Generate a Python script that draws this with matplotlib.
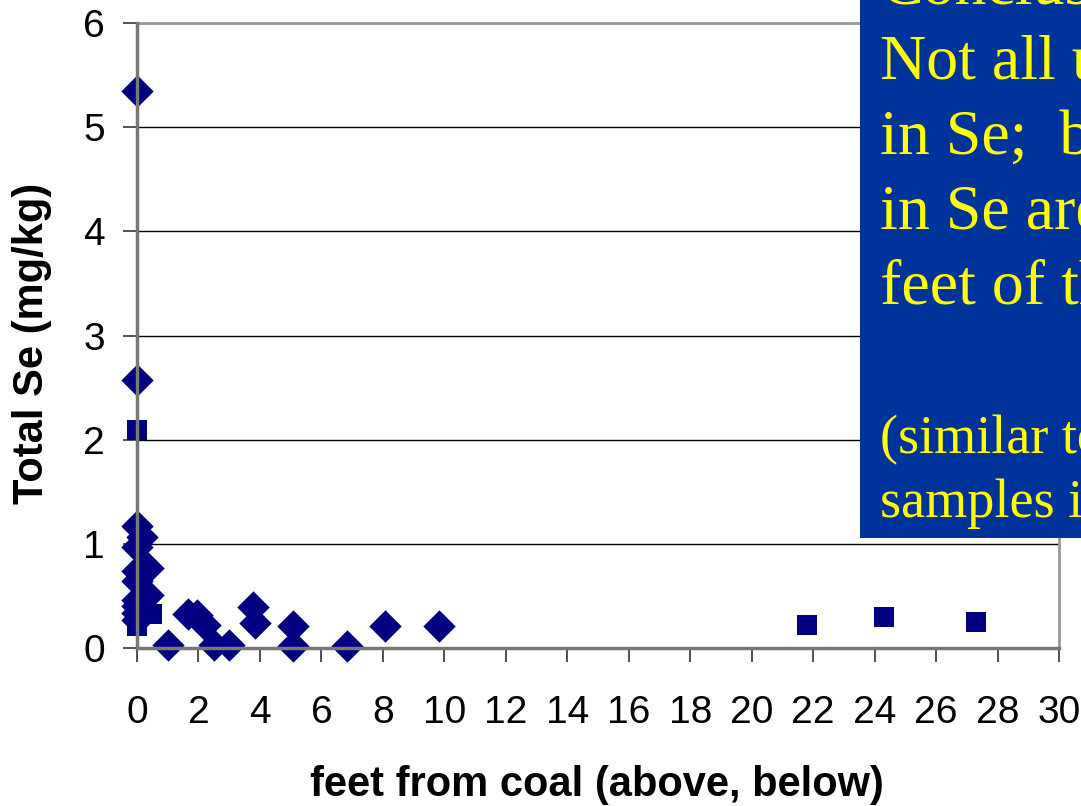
import matplotlib
matplotlib.use("Agg")
import matplotlib.pyplot as plt
from matplotlib.patches import Rectangle

# diamond samples (feet from coal, total Se)
dia_x = [0, 0, 0, 0.15, 0, 0.35, 0, 0, 0.35, 0, 0, 0, 0,
         1.0, 1.65, 1.95, 2.2, 2.5, 3.0, 3.78, 3.85, 5.08, 5.08, 6.83, 8.07, 9.83]
dia_y = [5.35, 2.57, 1.17, 1.07, 0.97, 0.77, 0.74, 0.64, 0.51, 0.46, 0.40, 0.34, 0.27,
         0.03, 0.33, 0.32, 0.22, 0.03, 0.03, 0.39, 0.24, 0.21, 0.02, 0.02, 0.21, 0.21]

# square samples
sq_x = [0, 0.48, 0, 21.8, 24.3, 27.3]
sq_y = [2.09, 0.33, 0.21, 0.22, 0.30, 0.25]

xticks = list(range(0, 31, 2))
yticks = list(range(0, 7))

box_lines_big = ["Conclusion:", "Not all units are high", "in Se;  but those high",
                 "in Se are within a few", "feet of the coal."]
box_lines_small = ["(similar to other", "samples in the area)"]

navy = "#000080"
W, H = 1081, 806

fig = plt.figure(figsize=(10.81, 8.06), dpi=100)
ax = fig.add_axes([137 / W, 158 / H, 922 / W, 625 / H])

ax.scatter(dia_x, dia_y, marker="D", s=16.5 ** 2, color=navy, linewidths=0, clip_on=False, zorder=3)
ax.scatter(sq_x, sq_y, marker="s", s=15 ** 2, color=navy, linewidths=0, clip_on=False, zorder=3)

ax.set_xlim(0, 30)
ax.set_ylim(0, 6)
ax.set_xticks(xticks)
ax.set_yticks(yticks)
ax.yaxis.grid(True, color="black", linewidth=1.0)
ax.set_axisbelow(True)

for side in ["left", "bottom"]:
    ax.spines[side].set_color("#777777")
    ax.spines[side].set_linewidth(2.5)
    ax.spines[side].set_zorder(4)
for side in ["top", "right"]:
    ax.spines[side].set_color("#999999")
    ax.spines[side].set_linewidth(2.0)

ax.tick_params(direction="out", length=10, width=1.2, color="#333333", labelsize=28)
ax.tick_params(axis="y", pad=13)
ax.tick_params(axis="x", pad=24)
for lab in ax.get_xticklabels() + ax.get_yticklabels():
    lab.set_fontfamily("Liberation Sans")

fig.text(597 / W, 1 - 796 / H, "feet from coal (above, below)", fontsize=30, fontweight="bold",
         family="Liberation Sans", ha="center", va="baseline")
fig.text(32 / W, 1 - 343 / H, "Total Se (mg/kg)", fontsize=30, fontweight="bold",
         family="Liberation Sans", ha="center", va="center", rotation=90)

# blue conclusion box in the upper right
fig.patches.append(Rectangle((860 / W, 1 - 538 / H), 0.3, 0.7, transform=fig.transFigure,
                             facecolor="#003399", edgecolor="none", zorder=10))
for i, line in enumerate(box_lines_big):
    fig.text(880 / W, 1 - (4 + i * 75) / H, line, color="#ffff00", fontsize=46,
             family="Liberation Serif", va="baseline", ha="left", zorder=11)
for i, line in enumerate(box_lines_small):
    fig.text(880 / W, 1 - (453 + i * 64) / H, line, color="#ffff00", fontsize=39,
             family="Liberation Serif", va="baseline", ha="left", zorder=11)

fig.savefig("out.png", dpi=100)
